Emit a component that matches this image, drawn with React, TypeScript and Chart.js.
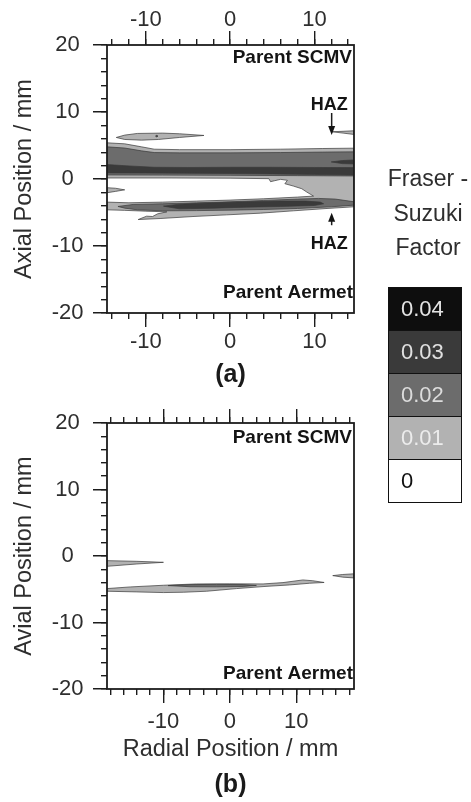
import React, { useEffect, useRef } from 'react';
import { Chart, registerables } from 'chart.js';

Chart.register(...registerables);

// ---------------- data ----------------
const LEVELS = [0.04, 0.03, 0.02, 0.01, 0];
const LEVEL_LABELS = ['0.04', '0.03', '0.02', '0.01', '0'];
const LEGEND_TITLE = ['Fraser -', 'Suzuki', 'Factor'];

const A_X_RANGE = [-14.6, 14.7];
const B_X_RANGE = [-18.5, 18.7];
const Y_RANGE = [-20, 20];
const A_X_TICKS = [-14, -12, -10, -8, -6, -4, -2, 0, 2, 4, 6, 8, 10, 12, 14];
const B_X_TICKS = [-18, -16, -14, -12, -10, -8, -6, -4, -2, 0, 2, 4, 6, 8, 10, 12, 14, 16, 18];
const Y_TICKS = [-20, -18, -16, -14, -12, -10, -8, -6, -4, -2, 0, 2, 4, 6, 8, 10, 12, 14, 16, 18, 20];
const X_LABELED = [-10, 0, 10];
const Y_LABELED = [-20, -10, 0, 10, 20];

// panel (a) contour regions [radial mm, axial mm]
const A_LIGHT_MAIN = [
  [-14.6, 5.4], [-12.5, 5.25], [-10.5, 4.8], [-9, 4.45], [-6, 4.38], [0, 4.38], [6, 4.45], [11, 4.55], [14.7, 4.6],
  [14.7, -4.15], [11.5, -4.4], [7.5, -4.75], [3.6, -5.1], [-0.4, -5.35], [-4.4, -5.6], [-8.3, -5.9], [-10.9, -6.05],
  [-9.9, -5.55], [-9.2, -5.6], [-8.6, -5.2], [-7.5, -4.9], [-10, -4.8], [-12.5, -4.68], [-14.6, -4.6],
  [-14.6, -3.45], [-12, -3.55], [-8, -3.45], [-4, -3.3], [0, -3.15], [4, -2.95], [8, -2.7], [9.9, -2.55],
  [9.1, -1.95], [8.5, -1.45], [7.5, -1.05], [6.5, -0.7], [6.8, -0.2], [6.0, -0.05], [5.3, -0.25], [4.8, -0.4],
  [4.6, 0.05], [0, 0.12], [-7, 0.15], [-14.6, 0.15],
];
const A_LIGHT_LENS = [
  [-13.5, 6.2], [-12.5, 6.55], [-11, 6.8], [-8, 6.85], [-6, 6.75], [-3.1, 6.5], [-6, 6.2], [-8.5, 5.9], [-10.5, 5.8], [-12.5, 5.9],
];
const A_LIGHT_LEFT_SLIVER = [[-14.6, -1.3], [-13.6, -1.38], [-12.5, -1.62], [-13.6, -1.85], [-14.6, -2.05]];
const A_LIGHT_HAZ_SLIVER = [[12.1, 7.05], [13.4, 7.12], [14.7, 7.2], [14.7, 6.65], [13.4, 6.85]];
const A_MID_UPPER = [
  [-14.6, 4.8], [-12.5, 4.62], [-10.5, 4.2], [-9, 3.95], [-6, 3.9], [0, 3.9], [6, 3.95], [11, 4.02], [14.7, 4.05],
  [14.7, 0.45], [8, 0.5], [0, 0.55], [-8, 0.58], [-14.6, 0.6],
];
const A_MID_LOWER = [
  [-13.3, -4.1], [-11.5, -3.8], [-8, -3.7], [-4, -3.55], [0, -3.4], [4, -3.2], [8, -3.0], [10.5, -2.9], [12.5, -3.0], [14.7, -3.4],
  [14.7, -3.9], [12, -4.15], [8, -4.4], [4, -4.55], [0, -4.65], [-4, -4.72], [-8, -4.75], [-11, -4.6], [-12.5, -4.35],
];
const A_DARK_STRIPE = [
  [-14.6, 2.15], [-12, 1.95], [-9, 1.75], [-5, 1.72], [0, 1.75], [5, 1.75], [10, 1.72], [14.7, 1.7],
  [14.7, 0.6], [10, 0.68], [5, 0.75], [0, 0.82], [-5, 0.85], [-10, 0.88], [-14.6, 0.9],
];
const A_DARK_WEDGE = [[12.0, 2.55], [13.3, 2.75], [14.7, 2.85], [14.7, 2.25], [13.3, 2.3]];
const A_DARK_LOWER = [
  [-7.9, -4.05], [-6, -3.75], [-2, -3.55], [2, -3.4], [6, -3.3], [9, -3.3], [10.7, -3.45], [11.1, -3.7],
  [10, -3.95], [6, -4.1], [2, -4.2], [-2, -4.35], [-6, -4.45],
];
const A_DARK_DOT = [[-8.85, 6.4], [-8.7, 6.52], [-8.55, 6.4], [-8.7, 6.28]];

// panel (b) contour regions
const B_LIGHT_LEFT = [[-18.5, -0.7], [-14, -0.8], [-10, -0.95], [-14, -1.2], [-18.5, -1.55]];
const B_LIGHT_MAIN = [
  [-18.5, -4.9], [-15, -4.65], [-10, -4.4], [-5, -4.2], [0, -4.18], [5, -4.2], [8, -4.0], [11, -3.6], [12.5, -3.72], [14.2, -3.98],
  [12, -4.1], [9, -4.35], [5, -4.6], [1, -4.9], [-3.5, -5.3], [-7, -5.45], [-10, -5.5], [-14, -5.4], [-18.5, -5.3],
];
const B_MID_CORE = [[-9.3, -4.45], [-6, -4.3], [-2, -4.27], [2, -4.3], [4.0, -4.42], [2, -4.58], [-2, -4.64], [-6, -4.62]];
const B_LIGHT_RIGHT = [[15.5, -2.95], [17, -2.78], [18.7, -2.68], [18.7, -3.3], [17, -3.18]];

const PANEL_A_REGIONS = [
  [A_LIGHT_MAIN, 0.01], [A_LIGHT_LENS, 0.01], [A_LIGHT_LEFT_SLIVER, 0.01], [A_LIGHT_HAZ_SLIVER, 0.01],
  [A_MID_UPPER, 0.02], [A_MID_LOWER, 0.02],
  [A_DARK_STRIPE, 0.03], [A_DARK_WEDGE, 0.03], [A_DARK_LOWER, 0.03], [A_DARK_DOT, 0.03],
];
const PANEL_B_REGIONS = [
  [B_LIGHT_LEFT, 0.01], [B_LIGHT_MAIN, 0.01], [B_LIGHT_RIGHT, 0.01], [B_MID_CORE, 0.02],
];

// HAZ annotations: text position and arrow (data coords)
const A_HAZ = [
  { text: 'HAZ', tx: 11.75, ty: 11.0, ax: 12.05, ay0: 9.85, ay1: 6.55 },
  { text: 'HAZ', tx: 11.75, ty: -9.7, ax: 12.05, ay0: -6.9, ay1: -5.05 },
];

// ---------------- styles ----------------
const FONT = '"Liberation Sans", Arial, Helvetica, sans-serif';
const AXIS_COLOR = '#1c1c1c';
const TEXT_COLOR = '#2e2e2e';
const EDGE_COLOR = '#3a3a3a';
const LEVEL_FILLS = ['#0e0e0e', '#3a3a3a', '#6c6c6c', '#b2b2b2', '#ffffff'];
const LEVEL_TEXT = ['#e4e4e4', '#e0e0e0', '#dcdcdc', '#ececec', '#111111'];
const MAJOR_TICK = 14;
const MINOR_TICK = 6;
const TICK_FONT_SIZE = 22;
const TITLE_FONT_SIZE = 23.5;
const W = 471;

function levelFill(level: number) {
  return LEVEL_FILLS[LEVELS.indexOf(level)];
}

function regionDataset(points: number[][], level: number) {
  const pts = points.concat([points[0]]);
  return {
    data: pts.map(([x, y]) => ({ x, y })),
    showLine: true,
    fill: 'shape',
    backgroundColor: levelFill(level),
    borderColor: EDGE_COLOR,
    borderWidth: 0.7,
    pointRadius: 0,
    pointHoverRadius: 0,
    pointHitRadius: 0,
    tension: 0,
    order: 100 - Math.round(level * 1000),
  };
}

function alignPx(p: number, w: number) {
  return Math.round(p - w / 2) + w / 2;
}

function makeDecor(spec: any) {
  return {
    id: 'decor',
    afterDraw(chart: any) {
      const { ctx, chartArea: ca } = chart;
      const sx = chart.scales.x;
      const sy = chart.scales.y;
      ctx.save();
      // major tick extensions
      ctx.strokeStyle = AXIS_COLOR;
      ctx.lineWidth = 1.4;
      ctx.beginPath();
      for (const v of X_LABELED) {
        const px = alignPx(sx.getPixelForValue(v), 1.4);
        ctx.moveTo(px, ca.bottom);
        ctx.lineTo(px, ca.bottom + MAJOR_TICK);
        ctx.moveTo(px, ca.top);
        ctx.lineTo(px, ca.top - MAJOR_TICK);
      }
      for (const v of Y_LABELED) {
        const py = alignPx(sy.getPixelForValue(v), 1.4);
        ctx.moveTo(ca.left, py);
        ctx.lineTo(ca.left - MAJOR_TICK, py);
      }
      ctx.stroke();
      // frame
      ctx.lineWidth = 1.8;
      ctx.strokeRect(ca.left, ca.top, ca.right - ca.left, ca.bottom - ca.top);

      // corner labels
      ctx.fillStyle = '#141414';
      ctx.font = `bold 19px ${FONT}`;
      ctx.textAlign = 'right';
      ctx.textBaseline = 'middle';
      ctx.fillText('Parent SCMV', ca.right - 2, ca.top + spec.scmvOffset);
      ctx.fillText('Parent Aermet', ca.right - 1, ca.bottom - spec.aermetOffset);

      // HAZ annotations
      for (const h of spec.haz) {
        ctx.font = `bold 18px ${FONT}`;
        ctx.textAlign = 'center';
        ctx.fillText(h.text, sx.getPixelForValue(h.tx), sy.getPixelForValue(h.ty));
        const ax = sx.getPixelForValue(h.ax);
        const y0 = sy.getPixelForValue(h.ay0);
        const y1 = sy.getPixelForValue(h.ay1);
        const dir = Math.sign(y1 - y0);
        ctx.lineWidth = 1.5;
        ctx.beginPath();
        ctx.moveTo(ax, y0);
        ctx.lineTo(ax, y1 - dir * 6);
        ctx.stroke();
        ctx.beginPath();
        ctx.moveTo(ax, y1);
        ctx.lineTo(ax - 3.5, y1 - dir * 9);
        ctx.lineTo(ax + 3.5, y1 - dir * 9);
        ctx.closePath();
        ctx.fill();
      }

      // caption
      ctx.font = `bold 25px ${FONT}`;
      ctx.textAlign = 'center';
      ctx.fillStyle = '#1a1a1a';
      ctx.fillText(spec.caption, (ca.left + ca.right) / 2, ca.bottom + spec.captionOffset);
      ctx.restore();
    },
  };
}

function makeConfig(p: any) {
  const tickFont = { family: FONT, size: TICK_FONT_SIZE };
  const grid = {
    display: true,
    drawOnChartArea: false,
    drawTicks: true,
    tickLength: MINOR_TICK,
    color: AXIS_COLOR,
    lineWidth: 1.4,
  };
  const xLabel = (v: number) => (X_LABELED.includes(v) ? String(v) : '');
  const yLabel = (v: number) => (Y_LABELED.includes(v) ? String(v) : '');
  return {
    type: 'scatter',
    data: { datasets: p.regions.map(([pts, lvl]: any) => regionDataset(pts, lvl)) },
    options: {
      responsive: false,
      animation: false,
      events: [],
      layout: { padding: { left: 0, right: W - p.areaRight, top: 0, bottom: 0 } },
      plugins: { legend: { display: false }, tooltip: { enabled: false } },
      scales: {
        x: {
          type: 'linear',
          position: 'bottom',
          min: p.xRange[0],
          max: p.xRange[1],
          afterBuildTicks: (s: any) => {
            s.ticks = p.xTicks.map((v: number) => ({ value: v }));
          },
          afterFit: (s: any) => {
            s.height = p.height - p.areaBottom;
          },
          grid,
          border: { display: false },
          ticks: {
            autoSkip: false,
            maxRotation: 0,
            minRotation: 0,
            padding: p.bottomPad,
            font: tickFont,
            color: TEXT_COLOR,
            callback: (v: number) => xLabel(v),
          },
          title: p.xTitle
            ? {
                display: true,
                text: p.xTitle,
                font: { family: FONT, size: TITLE_FONT_SIZE },
                color: TEXT_COLOR,
                padding: { top: 0, bottom: p.xTitlePad },
              }
            : { display: false },
        },
        xTop: {
          type: 'linear',
          axis: 'x',
          position: 'top',
          min: p.xRange[0],
          max: p.xRange[1],
          afterBuildTicks: (s: any) => {
            s.ticks = p.xTicks.map((v: number) => ({ value: v }));
          },
          afterFit: (s: any) => {
            s.height = p.areaTop;
          },
          grid,
          border: { display: false },
          ticks: {
            display: p.topLabels,
            autoSkip: false,
            maxRotation: 0,
            minRotation: 0,
            padding: p.topPad,
            font: tickFont,
            color: TEXT_COLOR,
            callback: (v: number) => xLabel(v),
          },
        },
        y: {
          type: 'linear',
          position: 'left',
          min: Y_RANGE[0],
          max: Y_RANGE[1],
          afterBuildTicks: (s: any) => {
            s.ticks = Y_TICKS.map((v: number) => ({ value: v }));
          },
          afterFit: (s: any) => {
            s.width = p.areaLeft;
          },
          grid,
          border: { display: false },
          ticks: {
            autoSkip: false,
            crossAlign: 'center',
            padding: 17.5,
            font: tickFont,
            color: TEXT_COLOR,
            callback: (v: number) => yLabel(v),
          },
          title: {
            display: true,
            text: p.yTitle,
            font: { family: FONT, size: TITLE_FONT_SIZE },
            color: TEXT_COLOR,
            padding: { top: 10, bottom: 0 },
          },
        },
      },
    },
    plugins: [makeDecor(p.decor)],
  };
}

const PANEL_A = {
  top: 0,
  height: 400,
  areaLeft: 107,
  areaRight: 354,
  areaTop: 45,
  areaBottom: 313,
  xRange: A_X_RANGE,
  xTicks: A_X_TICKS,
  regions: PANEL_A_REGIONS,
  yTitle: 'Axial Position / mm',
  xTitle: null,
  xTitlePad: 0,
  topLabels: true,
  topPad: 5.5,
  bottomPad: 9.5,
  decor: { scmvOffset: 12.5, aermetOffset: 20, haz: A_HAZ, caption: '(a)', captionOffset: 62 },
};

const PANEL_B = {
  top: 390,
  height: 412,
  areaLeft: 107,
  areaRight: 354,
  areaTop: 33,
  areaBottom: 299,
  xRange: B_X_RANGE,
  xTicks: B_X_TICKS,
  regions: PANEL_B_REGIONS,
  yTitle: 'Avial Position / mm',
  xTitle: 'Radial Position / mm',
  xTitlePad: 38,
  topLabels: false,
  topPad: 6,
  bottomPad: 13.5,
  decor: { scmvOffset: 15, aermetOffset: 15, haz: [], caption: '(b)', captionOffset: 96 },
};

function Panel({ spec }: { spec: any }) {
  const ref = useRef<HTMLCanvasElement>(null);
  useEffect(() => {
    const chart = new Chart(ref.current as HTMLCanvasElement, makeConfig(spec) as any);
    return () => chart.destroy();
  }, [spec]);
  return (
    <canvas
      ref={ref}
      width={W}
      height={spec.height}
      style={{ position: 'absolute', left: 0, top: spec.top, width: W, height: spec.height }}
    />
  );
}

const LEGEND_TITLE_Y = [178, 212.5, 247];

export default function App() {
  return (
    <div
      style={{
        position: 'absolute',
        left: 0,
        top: 0,
        width: W,
        height: 802,
        background: '#ffffff',
        overflow: 'hidden',
        fontFamily: FONT,
      }}
    >
      <Panel spec={PANEL_A} />
      <Panel spec={PANEL_B} />
      {LEGEND_TITLE.map((t, i) => (
        <div
          key={t}
          style={{
            position: 'absolute',
            left: 378,
            width: 100,
            top: LEGEND_TITLE_Y[i] - 14,
            height: 28,
            lineHeight: '28px',
            textAlign: 'center',
            fontSize: 23,
            color: TEXT_COLOR,
            whiteSpace: 'nowrap',
          }}
        >
          {t}
        </div>
      ))}
      <div
        style={{
          position: 'absolute',
          left: 388,
          top: 287,
          width: 74,
          height: 216,
          border: '1.5px solid #111',
          boxSizing: 'border-box',
          display: 'flex',
          flexDirection: 'column',
        }}
      >
        {LEVEL_LABELS.map((lab, i) => (
          <div
            key={lab}
            style={{
              flex: 1,
              background: LEVEL_FILLS[i],
              color: LEVEL_TEXT[i],
              borderTop: i ? '1.5px solid #111' : 'none',
              display: 'flex',
              alignItems: 'center',
              paddingLeft: 12,
              fontSize: 22,
            }}
          >
            {lab}
          </div>
        ))}
      </div>
    </div>
  );
}
